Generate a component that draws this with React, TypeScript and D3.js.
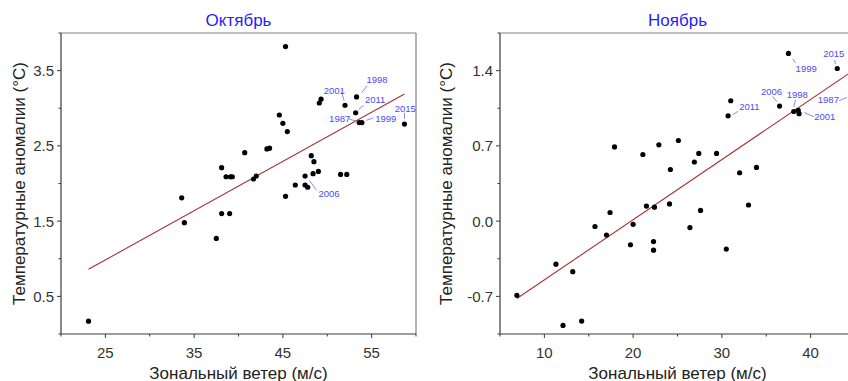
import React from "react";
import * as d3 from "d3";

// ---------- Data ----------
const octWind = [23.1, 33.6, 33.9, 37.5, 38.1, 38.1, 38.6, 39.0, 39.1, 39.3, 40.7, 41.7, 42.0, 43.2, 43.5, 44.6, 45.0, 45.3, 45.3, 45.5, 46.4, 47.5, 47.5, 47.8, 48.2, 48.5, 48.4, 49.0, 49.1, 49.3, 51.5, 52.2, 52.0, 53.3, 53.2, 53.6, 53.9, 58.7];
const octTemp = [0.17, 1.81, 1.48, 1.27, 2.21, 1.60, 2.09, 1.60, 2.09, 2.09, 2.41, 2.06, 2.10, 2.46, 2.47, 2.91, 2.80, 3.82, 1.83, 2.69, 1.98, 2.10, 1.98, 1.95, 2.37, 2.29, 2.13, 2.16, 3.07, 3.12, 2.12, 2.12, 3.04, 3.15, 2.94, 2.81, 2.81, 2.79];
const octTrendX = [23.1, 58.7];
const octTrendY = [0.86, 3.19];
const octXTicks = [25, 35, 45, 55];
const octYTicks = [0.5, 1.5, 2.5, 3.5];

const novWind = [6.9, 11.3, 12.1, 13.2, 14.2, 15.7, 17.0, 17.4, 17.9, 19.7, 20.0, 21.1, 21.5, 22.3, 22.3, 22.4, 22.9, 24.1, 24.2, 25.1, 26.4, 26.9, 27.4, 27.6, 29.4, 30.5, 30.7, 31.0, 32.0, 33.0, 33.9, 36.5, 37.5, 38.1, 38.6, 38.7, 43.0, 44.8];
const novTemp = [-0.69, -0.40, -0.97, -0.47, -0.93, -0.05, -0.13, 0.08, 0.69, -0.22, -0.03, 0.62, 0.14, -0.19, -0.27, 0.13, 0.71, 0.16, 0.48, 0.75, -0.06, 0.55, 0.63, 0.10, 0.63, -0.26, 0.98, 1.12, 0.45, 0.15, 0.50, 1.07, 1.56, 1.02, 1.03, 1.00, 1.42, 1.15];
const novTrendX = [6.9, 45.5];
const novTrendY = [-0.72, 1.44];
const novXTicks = [10, 20, 30, 40];
const novYTicks = [-0.7, 0.0, 0.7, 1.4];

// year labels: [text, labelX, labelY, leaderX1, leaderY1, leaderX2, leaderY2] in data units
const octLabels: [string, number, number, number, number, number, number][] = [
  ["2001", 50.8, 3.24, 51.6, 3.22, 51.9, 3.10],
  ["1998", 55.6, 3.38, 54.5, 3.30, 53.9, 3.21],
  ["2011", 55.4, 3.11, 54.1, 3.04, 53.5, 2.98],
  ["1987", 51.4, 2.86, 52.4, 2.86, 53.2, 2.83],
  ["1999", 56.6, 2.87, 55.2, 2.87, 54.4, 2.84],
  ["2015", 58.8, 3.00, 58.7, 2.94, 58.7, 2.86],
  ["2006", 50.2, 1.87, 48.8, 1.91, 48.0, 2.04],
];
const novLabels: [string, number, number, number, number, number, number][] = [
  ["2015", 42.6, 1.56, 42.7, 1.50, 42.8, 1.46],
  ["1999", 39.5, 1.42, 38.3, 1.47, 38.0, 1.51],
  ["2006", 35.6, 1.21, 35.7, 1.16, 36.2, 1.11],
  ["1998", 38.5, 1.18, 38.3, 1.13, 38.1, 1.06],
  ["2011", 33.1, 1.07, 31.8, 1.02, 31.2, 0.99],
  ["2001", 41.6, 0.97, 40.4, 0.97, 39.3, 1.01],
  ["1987", 42.0, 1.13, 43.2, 1.12, 44.1, 1.15],
];

const W = 848;
const H = 381;
const PLOT_W = 355;
const TOP = 33;
const BOTTOM = 334;

type PanelProps = {
  left: number;
  title: string;
  xDomain: [number, number];
  yDomain: [number, number];
  xs: number[];
  ys: number[];
  trendX: number[];
  trendY: number[];
  xTicks: number[];
  yTicks: number[];
  xMinor: number[];
  yMinor: number[];
  labels: [string, number, number, number, number, number, number][];
  yFmt: (v: number) => string;
  yLabelX: number;
};

function Panel(p: PanelProps) {
  const x = d3.scaleLinear().domain(p.xDomain).range([p.left, p.left + PLOT_W]);
  const y = d3.scaleLinear().domain(p.yDomain).range([BOTTOM, TOP]);
  const line = d3
    .line<number>()
    .x((_, i) => x(p.trendX[i]))
    .y((v) => y(v));
  const cx = p.left + PLOT_W / 2;
  const axisCol = "#3a3a3a";
  const tickFont = "Liberation Sans, Arial, sans-serif";
  return (
    <g>
      <text x={cx} y={20} textAnchor="middle" dominantBaseline="central" fill="#1f1fff" fontSize={17} fontFamily={tickFont}>
        {p.title}
      </text>
      {/* frame top/right */}
      <line x1={p.left} x2={p.left + PLOT_W} y1={TOP} y2={TOP} stroke="#808080" strokeWidth={1.2} />
      <line x1={p.left + PLOT_W} x2={p.left + PLOT_W} y1={TOP} y2={BOTTOM} stroke="#808080" strokeWidth={1.2} />
      {/* axes */}
      <line x1={p.left} x2={p.left} y1={TOP} y2={BOTTOM} stroke={axisCol} strokeWidth={1.2} />
      <line x1={p.left} x2={p.left + PLOT_W} y1={BOTTOM} y2={BOTTOM} stroke={axisCol} strokeWidth={1.2} />
      {p.xTicks.map((t) => (
        <g key={"xt" + t}>
          <line x1={x(t)} x2={x(t)} y1={BOTTOM} y2={BOTTOM + 4} stroke={axisCol} strokeWidth={1} />
          <text x={x(t)} y={352} textAnchor="middle" dominantBaseline="central" fontSize={15} fill="#333" fontFamily={tickFont}>
            {t}
          </text>
        </g>
      ))}
      {p.xMinor.map((t) => (
        <line key={"xm" + t} x1={x(t)} x2={x(t)} y1={BOTTOM} y2={BOTTOM + 2.5} stroke={axisCol} strokeWidth={1} />
      ))}
      {p.yTicks.map((t) => (
        <g key={"yt" + t}>
          <line x1={p.left - 4} x2={p.left} y1={y(t)} y2={y(t)} stroke={axisCol} strokeWidth={1} />
          <text x={p.left - 7} y={y(t)} textAnchor="end" dominantBaseline="central" fontSize={15} fill="#333" fontFamily={tickFont}>
            {p.yFmt(t)}
          </text>
        </g>
      ))}
      {p.yMinor.map((t) => (
        <line key={"ym" + t} x1={p.left - 2.5} x2={p.left} y1={y(t)} y2={y(t)} stroke={axisCol} strokeWidth={1} />
      ))}
      <text x={cx} y={373} textAnchor="middle" dominantBaseline="central" fontSize={17} fill="#222" fontFamily={tickFont}>
        Зональный ветер (м/с)
      </text>
      <text
        transform={`translate(${p.yLabelX},${(TOP + BOTTOM) / 2}) rotate(-90)`}
        textAnchor="middle"
        dominantBaseline="central"
        fontSize={17}
        fill="#222"
        fontFamily={tickFont}
      >
        Температурные аномалии (°C)
      </text>
      <path d={line(p.trendY) || ""} fill="none" stroke="#a83232" strokeWidth={1.1} />
      {p.xs.map((v, i) => (
        <circle key={"pt" + i} cx={x(v)} cy={y(p.ys[i])} r={2.6} fill="#000" />
      ))}
      {p.labels.map((l) => (
        <g key={"lb" + l[0]}>
          <line x1={x(l[3])} y1={y(l[4])} x2={x(l[5])} y2={y(l[6])} stroke="#6a6aff" strokeWidth={0.8} />
          <text x={x(l[1])} y={y(l[2])} textAnchor="middle" dominantBaseline="central" fontSize={9.5} fill="#4a4aff" fontFamily={tickFont}>
            {l[0]}
          </text>
        </g>
      ))}
    </g>
  );
}

export default function App() {
  return (
    <div style={{ position: "absolute", left: 0, top: 0, width: W, height: H, background: "#fff" }}>
      <svg width={W} height={H} style={{ display: "block" }}>
        <rect width={W} height={H} fill="#fff" />
        <Panel
          left={61}
          title="Октябрь"
          xDomain={[20, 60]}
          yDomain={[0, 4]}
          xs={octWind}
          ys={octTemp}
          trendX={octTrendX}
          trendY={octTrendY}
          xTicks={octXTicks}
          yTicks={octYTicks}
          xMinor={[20, 30, 40, 50, 60]}
          yMinor={[0, 1, 2, 3, 4]}
          labels={octLabels}
          yFmt={(v) => v.toFixed(1)}
          yLabelX={19}
        />
        <Panel
          left={500}
          title="Ноябрь"
          xDomain={[5, 45]}
          yDomain={[-1.05, 1.75]}
          xs={novWind}
          ys={novTemp}
          trendX={novTrendX}
          trendY={novTrendY}
          xTicks={novXTicks}
          yTicks={novYTicks}
          xMinor={[5, 15, 25, 35, 45]}
          yMinor={[-1.05, -0.35, 0.35, 1.05, 1.75]}
          labels={novLabels}
          yFmt={(v) => v.toFixed(1)}
          yLabelX={446}
        />
      </svg>
    </div>
  );
}
